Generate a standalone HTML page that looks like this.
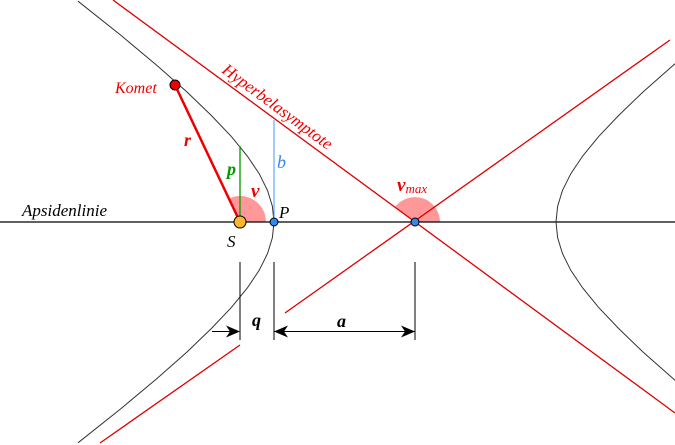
<!DOCTYPE html>
<html><head><meta charset="utf-8"><style>
html,body{margin:0;padding:0;background:#fff;width:675px;height:445px;overflow:hidden}
svg text{font-family:"Liberation Serif","DejaVu Serif",serif;font-style:italic}
</style></head><body>
<svg width="675" height="445" viewBox="0 0 675 445" xmlns="http://www.w3.org/2000/svg">
<path d="M240,222 L266,222 A26,26 0 0 0 228.8,198.5 Z" fill="#ff9999"/>
<path d="M415,222 L440,222 A25,25 0 0 0 394.9,207.2 Z" fill="#ff9999"/>
<line x1="0" y1="222" x2="675" y2="222" stroke="#000" stroke-width="1.3"/>
<polyline fill="none" stroke="#333" stroke-width="1" points="78,1.2 121,35.4 157,65.5 187,92 211.5,115.6 231.5,136.7 247.3,156 259.2,173.7 267.5,190.4 272.4,206.4 274,222 272.4,237.6 267.5,253.6 259.2,270.3 247.3,288 231.5,307.3 211.5,328.4 187,352 157,378.5 121,408.6 78,442.8"/>
<polyline fill="none" stroke="#333" stroke-width="1" points="752,1.2 709,35.4 673,65.5 643,92 618.5,115.6 598.5,136.7 582.7,156 570.8,173.7 562.5,190.4 557.6,206.4 556,222 557.6,237.6 562.5,253.6 570.8,270.3 582.7,288 598.5,307.3 618.5,328.4 643,352 673,378.5 709,408.6"/>
<line x1="113" y1="0" x2="675" y2="413" stroke="#d00" stroke-width="1.3"/>
<line x1="285" y1="313" x2="670" y2="40" stroke="#d00" stroke-width="1.3"/>
<line x1="100" y1="443" x2="240" y2="345" stroke="#d00" stroke-width="1.3"/>
<line x1="240" y1="146" x2="240" y2="222" stroke="#090" stroke-width="1.3"/>
<line x1="274" y1="120" x2="274" y2="222" stroke="#4499ff" stroke-width="1"/>
<line x1="175" y1="85" x2="240" y2="222" stroke="#e00" stroke-width="2.5"/>
<line x1="240" y1="262" x2="240" y2="340" stroke="#000"/>
<line x1="274" y1="262" x2="274" y2="340" stroke="#000"/>
<line x1="415" y1="262" x2="415" y2="340" stroke="#000"/>
<line x1="212" y1="331.5" x2="236" y2="331.5" stroke="#000"/>
<line x1="274" y1="331.5" x2="415" y2="331.5" stroke="#000"/>
<path d="M240,331.5 L226,325.5 L230,331.5 L226,337.5 Z" fill="#000"/>
<path d="M274,331.5 L288,325.5 L284,331.5 L288,337.5 Z" fill="#000"/>
<path d="M415,331.5 L401,325.5 L405,331.5 L401,337.5 Z" fill="#000"/>
<circle cx="175" cy="85" r="5" fill="#e00" stroke="#000" stroke-width="1"/>
<circle cx="240" cy="222" r="6" fill="#f5b82e" stroke="#000" stroke-width="1"/>
<circle cx="274" cy="222" r="4" fill="#3388ee" stroke="#000" stroke-width="1"/>
<circle cx="415" cy="222" r="4" fill="#3388ee" stroke="#000" stroke-width="1"/>
<g font-family="Liberation Serif, DejaVu Serif, serif" font-style="italic">
<text x="115" y="93" font-size="16" fill="#e00">Komet</text>
<text x="184" y="146" font-size="18" font-weight="bold" fill="#e00">r</text>
<text x="227" y="175" font-size="18" font-weight="bold" fill="#090">p</text>
<text x="251" y="197" font-size="19" font-weight="bold" fill="#e00">ν</text>
<text x="277" y="168" font-size="18" fill="#3388ee">b</text>
<text x="279" y="218" font-size="17" fill="#000">P</text>
<text x="227" y="247" font-size="17" fill="#000">S</text>
<text x="22" y="216" font-size="17" fill="#000">Apsidenlinie</text>
<text x="252" y="326" font-size="18" font-weight="bold" fill="#000">q</text>
<text x="337" y="327" font-size="18" font-weight="bold" fill="#000">a</text>
<text x="397" y="191" font-size="19" font-weight="bold" fill="#e00">ν<tspan font-size="13" font-weight="normal" dy="2">max</tspan></text>
<text x="0" y="0" font-size="17" fill="#e00" transform="translate(221,72) rotate(36.3)">Hyperbelasymptote</text>
</g>
</svg>
</body></html>
